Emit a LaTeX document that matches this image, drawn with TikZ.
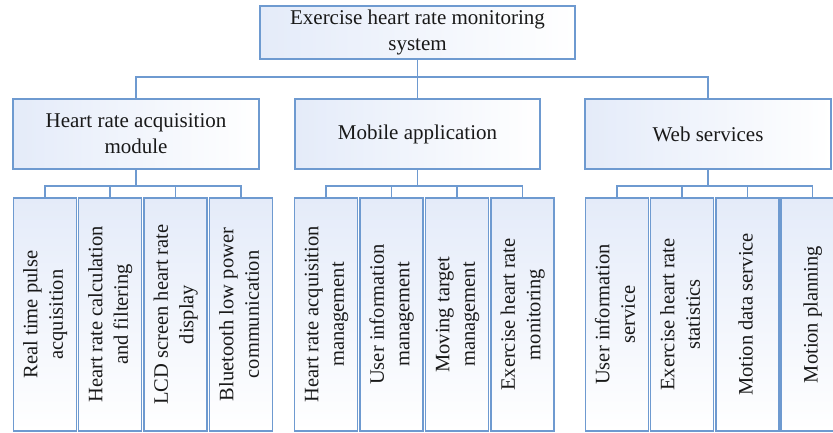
\documentclass[tikz,border=0pt]{standalone}
\usepackage{fontspec}
\usepackage{graphicx}
\setmainfont{Liberation Serif}
\definecolor{edgeblue}{RGB}{110,154,208}
\definecolor{fillblue}{RGB}{228,235,249}
\newcommand{\vtext}[1]{\rotatebox{90}{\begin{tabular}{@{}c@{}}#1\end{tabular}}}
\tikzset{
  box/.style={draw=edgeblue, line width=1.3pt, inner sep=2pt, align=center,
    font=\fontsize{21}{26}\selectfont, text=black!90},
  hbox/.style={box, left color=fillblue, right color=white},
  vbox/.style={box, minimum width=63pt, minimum height=233pt,
    top color=fillblue, bottom color=white, font=\fontsize{20.5}{25.5}\selectfont},
  conn/.style={draw=edgeblue, line width=1.2pt}
}
\begin{document}
\begin{tikzpicture}[x=1pt,y=1pt]
\useasboundingbox (0,0) rectangle (833,-432);
\clip (0,0) rectangle (833,-432);
\node[hbox, minimum width=315pt, minimum height=53pt] (root) at (417.5,-32.5) {Exercise heart rate monitoring\\system};
\node[hbox, minimum width=246pt, minimum height=70pt] (hr) at (136,-134) {Heart rate acquisition\\module};
\node[hbox, minimum width=245pt, minimum height=70pt] (ma) at (417.5,-134) {Mobile application};
\node[hbox, minimum width=246pt, minimum height=70pt] (ws) at (708,-134) {Web services};
% children
\node[vbox] (a1) at (45,-314.5) {\vtext{Real time pulse\\acquisition}};
\node[vbox] (a2) at (110,-314.5) {\vtext{Heart rate calculation\\and filtering}};
\node[vbox] (a3) at (175.5,-314.5) {\vtext{LCD screen heart rate\\display}};
\node[vbox] (a4) at (241,-314.5) {\vtext{Bluetooth low power\\communication}};
\node[vbox] (b1) at (326,-314.5) {\vtext{Heart rate acquisition\\management}};
\node[vbox] (b2) at (391.5,-314.5) {\vtext{User information\\management}};
\node[vbox] (b3) at (457,-314.5) {\vtext{Moving target\\management}};
\node[vbox] (b4) at (522.5,-314.5) {\vtext{Exercise heart rate\\monitoring}};
\node[vbox] (c1) at (617,-314.5) {\vtext{User information\\service}};
\node[vbox] (c2) at (682,-314.5) {\vtext{Exercise heart rate\\statistics}};
\node[vbox] (c3) at (747.5,-314.5) {\vtext{Motion data service}};
\node[vbox] (c4) at (812.5,-314.5) {\vtext{Motion planning}};
% connectors
\coordinate (bar0) at (0,-77);
\coordinate (bar1) at (0,-186);
\foreach \c in {hr,ma,ws}
  \draw[conn] (root.south) -- (root.south |- bar0) -| (\c.north);
\foreach \c in {a1,a2,a3,a4}
  \draw[conn] (hr.south) -- (hr.south |- bar1) -| (\c.north);
\foreach \c in {b1,b2,b3,b4}
  \draw[conn] (ma.south) -- (ma.south |- bar1) -| (\c.north);
\foreach \c in {c1,c2,c3,c4}
  \draw[conn] (ws.south) -- (ws.south |- bar1) -| (\c.north);
\end{tikzpicture}
\end{document}
